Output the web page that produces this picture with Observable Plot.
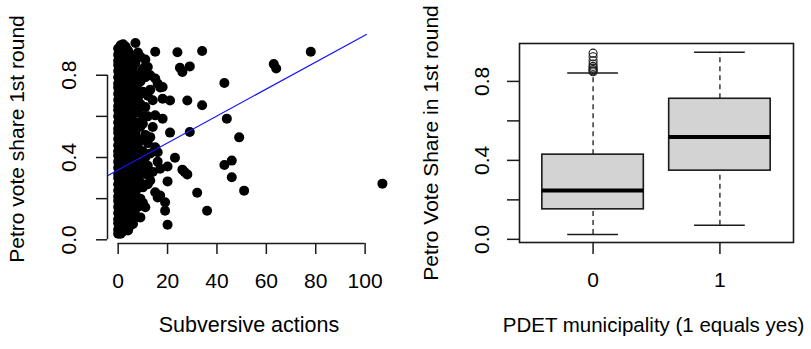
<!DOCTYPE html>
<html>
<head>
<meta charset="utf-8">
<script src="https://cdn.jsdelivr.net/npm/d3@7"></script>
<script src="https://cdn.jsdelivr.net/npm/@observablehq/plot@0.6"></script>
<style>
  html, body { margin: 0; padding: 0; background: #ffffff; }
  #wrap { position: relative; width: 811px; height: 349px; background: #ffffff; overflow: hidden; }
  #wrap svg { position: absolute; top: 0; }
</style>
</head>
<body>
<div id="wrap"></div>
<script>
// ---------- Left panel data: Petro vote share vs. subversive actions ----------
// dense columns (share values for municipalities with N actions)
const sharesAt0 = [0.03,0.05,0.08,0.10,0.13,0.16,0.19,0.21,0.24,0.27,0.30,0.32,0.35,0.38,0.41,0.43,0.46,0.49,0.52,0.54,0.57,0.60,0.63,0.65,0.68,0.71,0.74,0.76,0.79,0.82,0.85,0.87,0.90,0.93];
const sharesAt1 = [0.03,0.06,0.09,0.12,0.14,0.17,0.20,0.23,0.25,0.28,0.31,0.34,0.36,0.39,0.42,0.45,0.47,0.50,0.53,0.56,0.58,0.61,0.64,0.67,0.69,0.72,0.75,0.78,0.80,0.83,0.86,0.89,0.91,0.946];
const sharesAt2 = [0.04,0.07,0.10,0.13,0.15,0.18,0.21,0.24,0.26,0.29,0.32,0.35,0.37,0.40,0.43,0.46,0.48,0.51,0.54,0.57,0.59,0.62,0.65,0.68,0.70,0.73,0.76,0.79,0.81,0.84,0.87,0.90,0.93,0.95];
const sharesAt3 = [0.05,0.08,0.11,0.14,0.16,0.19,0.22,0.25,0.27,0.30,0.33,0.36,0.38,0.41,0.44,0.47,0.49,0.52,0.55,0.58,0.60,0.63,0.66,0.69,0.71,0.74,0.77,0.80,0.82,0.85,0.88,0.91,0.94];
const sharesAt4 = [0.045,0.07,0.09,0.12,0.15,0.17,0.20,0.23,0.26,0.28,0.31,0.34,0.37,0.39,0.42,0.45,0.48,0.50,0.53,0.56,0.59,0.61,0.64,0.67,0.70,0.72,0.75,0.78,0.81,0.83,0.86,0.89,0.92];
const sharesAt5 = [0.07,0.10,0.13,0.16,0.18,0.21,0.24,0.27,0.29,0.33,0.36,0.40,0.44,0.47,0.51,0.55,0.58,0.62,0.66,0.69,0.73,0.76,0.80,0.84,0.87,0.90];
const sharesAt6 = [0.077,0.12,0.15,0.19,0.22,0.26,0.30,0.34,0.38,0.41,0.45,0.49,0.53,0.57,0.61,0.64,0.68,0.72,0.75,0.79,0.83,0.88];
const sharesAt7 = [0.12,0.17,0.22,0.27,0.31,0.36,0.41,0.46,0.52,0.57,0.63,0.68,0.74,0.80,0.86,0.957];
const sharesAt8 = [0.11,0.16,0.25,0.30,0.35,0.45,0.49,0.57,0.62,0.69,0.76,0.80,0.91];
const sharesAt9 = [0.109,0.20,0.28,0.37,0.42,0.483,0.55,0.66,0.71,0.77,0.89];
const sharesAt10 = [0.18,0.255,0.33,0.43,0.564,0.60,0.72,0.83];
const sharesAt11 = [0.158,0.32,0.401,0.51,0.645,0.79,0.841,0.876];
const sharesAt12 = [0.27,0.36,0.47,0.60,0.70,0.84];
const sharesAt13 = [0.288,0.42,0.499,0.73,0.80];
const sharesAt14 = [0.33,0.548,0.678];
const sharesAt15 = [0.231,0.45,0.605,0.784,0.914];
const sharesAt16 = [0.206,0.38,0.426,0.76];
const sharesAt17 = [0.215,0.345,0.74];
// sparse municipalities (actions, share)
const sparseActions = [18,18,18,24,34,78,25,26,29,63,64,43,21,28,34,44,21,29,49,23,43,46,46,26,27,28,20,20,51,32,36,19,19,20,107];
const sparseShares  = [0.743,0.686,0.589,0.912,0.918,0.914,0.836,0.816,0.843,0.854,0.833,0.762,0.677,0.677,0.654,0.589,0.521,0.524,0.498,0.399,0.364,0.385,0.304,0.341,0.328,0.318,0.356,0.284,0.239,0.229,0.141,0.182,0.141,0.073,0.273];
// OLS fit line (drawn like abline, clipped to plot region)
const fitIntercept = 0.340;
const fitSlope = 0.00655;
const fitRange = [-4.32, 100.5];

const subversiveTicks = [0, 20, 40, 60, 80, 100];
const shareTicks = [0, 0.2, 0.4, 0.6, 0.8];
const shareLabelTicks = [0, 0.4, 0.8];
const shareLabelText = ["0.0", "0.4", "0.8"];

// ---------- Right panel data: boxplot by PDET status ----------
const pdetGroups = ["0", "1"];
const boxQ1 = [0.152, 0.348];
const boxMedian = [0.248, 0.518];
const boxQ3 = [0.429, 0.712];
const whiskerLow = [0.025, 0.071];
const whiskerHigh = [0.842, 0.948];
const outlierShares0 = [0.943, 0.925, 0.905, 0.888, 0.876, 0.868, 0.860, 0.854, 0.849];

// ---------- Build tables ----------
const denseColumns = [sharesAt0, sharesAt1, sharesAt2, sharesAt3, sharesAt4, sharesAt5, sharesAt6, sharesAt7, sharesAt8,
  sharesAt9, sharesAt10, sharesAt11, sharesAt12, sharesAt13, sharesAt14, sharesAt15, sharesAt16, sharesAt17];
const points = [];
denseColumns.forEach((col, n) => col.forEach(s => points.push({actions: n, share: s})));
sparseActions.forEach((a, i) => points.push({actions: a, share: sparseShares[i]}));
const fitLine = fitRange.map(x => ({x, y: fitIntercept + fitSlope * x}));
const yLabels = shareLabelTicks.map((v, i) => ({v, t: shareLabelText[i]}));

const FONT = "'Liberation Sans', Arial, Helvetica, sans-serif";
const FS = 21;
const INK = "#1a1a1a";

const leftX = [-4.32, 112.3], leftY = [-0.018, 0.998];
const left = Plot.plot({
  width: 400, height: 349,
  marginLeft: 107, marginRight: 5, marginTop: 34, marginBottom: 106,
  x: {domain: leftX},
  y: {domain: leftY},
  style: {fontFamily: FONT, fontSize: FS + "px", color: "black", background: "white", overflow: "visible"},
  marks: [
    Plot.dot(points, {x: "actions", y: "share", r: 5, fill: "black"}),
    Plot.line(fitLine, {x: "x", y: "y", stroke: "#1414ff", strokeWidth: 1.2}),
    // axis lines (R style: span first to last tick)
    Plot.ruleY([{y: leftY[0], a: subversiveTicks[0], b: subversiveTicks[subversiveTicks.length - 1]}], {y: "y", x1: "a", x2: "b", stroke: INK, strokeWidth: 1.5}),
    Plot.ruleX([{x: leftX[0], a: shareTicks[0], b: shareTicks[shareTicks.length - 1]}], {x: "x", y1: "a", y2: "b", stroke: INK, strokeWidth: 1.5}),
    Plot.axisX({ticks: subversiveTicks, tickSize: 11, tickPadding: 19, label: null, tickFormat: d => String(d), fontSize: FS, stroke: INK, strokeWidth: 1.5}),
    Plot.axisY({ticks: shareTicks, tickSize: 11, label: null, tickFormat: () => "", stroke: INK, strokeWidth: 1.5}),
    Plot.text(yLabels, {y: "v", text: "t", frameAnchor: "left", dx: -38.5, rotate: -90, textAnchor: "middle", lineAnchor: "middle", fontSize: FS, fill: "black"}),
    Plot.text(["Subversive actions"], {frameAnchor: "bottom", dx: -2.5, dy: 88, textAnchor: "middle", fontSize: 21.5, fill: "black"}),
    Plot.text(["Petro vote share 1st round"], {frameAnchor: "left", dx: -90, rotate: -90, textAnchor: "middle", lineAnchor: "middle", fontSize: FS, fill: "black"})
  ]
});
left.style.left = "0px";

const boxes = pdetGroups.map((g, i) => ({
  pos: i + 1, label: g, q1: boxQ1[i], med: boxMedian[i], q3: boxQ3[i], lo: whiskerLow[i], hi: whiskerHigh[i]
}));
const outliers = outlierShares0.map(v => ({pos: 1, v}));

const rightX = [0.42, 2.58], rightY = [-0.016, 0.992];
const right = Plot.plot({
  width: 411, height: 349,
  marginLeft: 119, marginRight: 18, marginTop: 43, marginBottom: 107,
  x: {domain: rightX},
  y: {domain: rightY},
  style: {fontFamily: FONT, fontSize: FS + "px", color: "black", background: "white", overflow: "visible"},
  marks: [
    Plot.ruleX(boxes, {x: "pos", y1: "q3", y2: "hi", stroke: INK, strokeWidth: 1.3, strokeDasharray: "5,4"}),
    Plot.ruleX(boxes, {x: "pos", y1: "lo", y2: "q1", stroke: INK, strokeWidth: 1.3, strokeDasharray: "5,4"}),
    Plot.ruleY(boxes, {y: "hi", x1: d => d.pos - 0.2, x2: d => d.pos + 0.2, stroke: INK, strokeWidth: 1.5}),
    Plot.ruleY(boxes, {y: "lo", x1: d => d.pos - 0.2, x2: d => d.pos + 0.2, stroke: INK, strokeWidth: 1.5}),
    Plot.rect(boxes, {x1: d => d.pos - 0.4, x2: d => d.pos + 0.4, y1: "q1", y2: "q3", fill: "#d3d3d3", stroke: INK, strokeWidth: 1.6}),
    Plot.ruleY(boxes, {y: "med", x1: d => d.pos - 0.4, x2: d => d.pos + 0.4, stroke: "black", strokeWidth: 4}),
    Plot.dot(outliers, {x: "pos", y: "v", r: 4, stroke: INK, strokeWidth: 1.1, fill: "none"}),
    Plot.frame({stroke: INK, strokeWidth: 1.6}),
    Plot.axisX({ticks: boxes.map(d => d.pos), tickSize: 12, tickPadding: 18, label: null, tickFormat: d => pdetGroups[d - 1], fontSize: FS, stroke: INK, strokeWidth: 1.5}),
    Plot.axisY({ticks: shareTicks, tickSize: 12, label: null, tickFormat: () => "", stroke: INK, strokeWidth: 1.5}),
    Plot.text(yLabels, {y: "v", text: "t", frameAnchor: "left", dx: -37.5, rotate: -90, textAnchor: "middle", lineAnchor: "middle", fontSize: FS, fill: "black"}),
    Plot.text(["PDET municipality (1 equals yes)"], {frameAnchor: "bottom", dx: -3, dy: 89, textAnchor: "middle", fontSize: 20.5, fill: "black"}),
    Plot.text(["Petro Vote Share in 1st round"], {frameAnchor: "left", dx: -88, rotate: -90, textAnchor: "middle", lineAnchor: "middle", fontSize: FS, fill: "black"})
  ]
});
right.style.left = "400px";

const wrap = document.getElementById("wrap");
wrap.appendChild(left);
wrap.appendChild(right);
</script>
</body>
</html>
